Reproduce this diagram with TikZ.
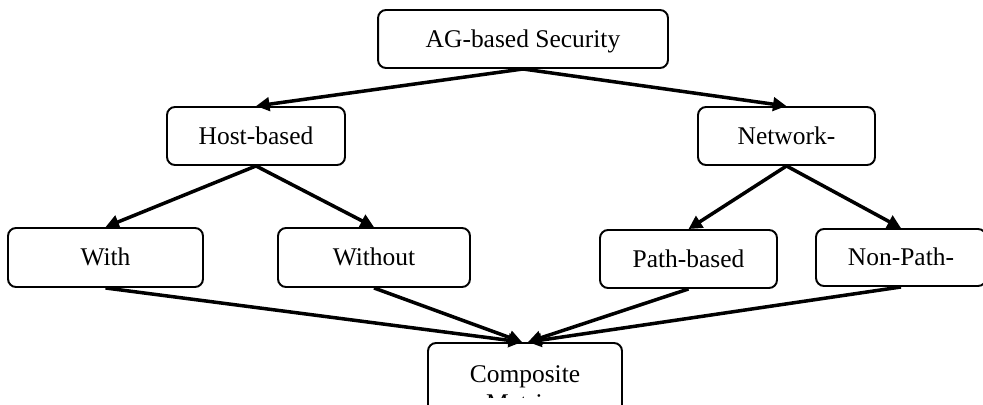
\documentclass[tikz,border=0pt]{standalone}
\usepackage{fontspec}
\setmainfont{Liberation Serif}
\usepackage{tikz}
\usetikzlibrary{arrows.meta}

\begin{document}
\begin{tikzpicture}[x=0.02cm, y=-0.02cm,
        box/.style={draw, line width=1.1pt, rounded corners=0.16cm,
            minimum height=1.16cm, inner sep=0pt, text height=1em, text depth=0.04em,
            font=\fontsize{14.5}{17.4}\selectfont},
        lbl/.style={inner sep=0pt, text height=1em, text depth=0.04em,
            font=\fontsize{14.5}{17.4}\selectfont},
        arr/.style={-{Triangle[length=0.27cm, width=0.27cm]}, line width=2pt}]
    \useasboundingbox (0,0) rectangle (983,405);
    \clip (0,0) rectangle (983,405);

    % top and second level
    \node[box, minimum width=5.8cm] (ag) at (523,39) {AG-based Security};
    \node[box, minimum width=3.56cm] (host) at (256,136) {Host-based};
    \node[box, minimum width=3.54cm] (net) at (786.5,136) {Network-};

    % third level
    \node[box, minimum width=3.9cm, minimum height=1.18cm] (with) at (105.5,257.5) {With};
    \node[box, minimum width=3.84cm, minimum height=1.18cm] (without) at (374,257.5) {Without};
    \node[box, minimum width=3.54cm, minimum height=1.16cm] (path) at (688.5,259) {Path-based};
    \node[box, minimum width=3.4cm, minimum height=1.14cm] (nonpath) at (901,257.5) {Non-Path-};

    % bottom box, second line cut off
    \node[box, minimum width=3.88cm, minimum height=1.4cm] (comp) at (525,378) {};
    \node[lbl] (compa) at (525,374) {Composite};
    \begin{scope}
        \clip (430,343) rectangle (620,397);
        \node[lbl] (compb) at (525,403) {Metrics};
    \end{scope}

    \draw[arr] (ag.south) -- (host.north);
    \draw[arr] (ag.south) -- (net.north);
    \draw[arr] (host.south) -- (with.north);
    \draw[arr] (host.south) -- (without.north);
    \draw[arr] (net.south) -- (path.north);
    \draw[arr] (net.south) -- (nonpath.north);

    \draw[arr] (with.south) -- ([xshift=-0.06cm]comp.north);
    \draw[arr] (without.south) -- ([xshift=-0.06cm]comp.north);
    \draw[arr] (path.south) -- ([xshift=0.06cm]comp.north);
    \draw[arr] (nonpath.south) -- ([xshift=0.06cm]comp.north);
\end{tikzpicture}
\end{document}
